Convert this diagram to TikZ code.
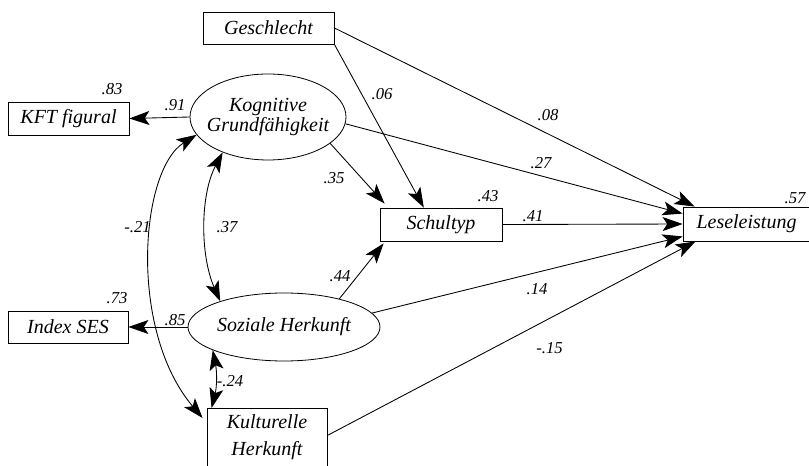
\documentclass[tikz,border=0pt]{standalone}
\usepackage{fontspec}
\setmainfont{Liberation Serif}
\usetikzlibrary{shapes.geometric,arrows.meta,calc}
\begin{document}
\begin{tikzpicture}[x=0.75pt,y=-0.75pt,
  box/.style={draw, line width=0.65pt, inner sep=0pt, font=\fontsize{15}{18}\selectfont\itshape},
  lat/.style={draw, ellipse, line width=0.6pt, inner sep=0pt},
  lattext/.style={align=center, inner sep=0pt, font=\fontsize{15}{14.5}\selectfont\itshape},
  coef/.style={font=\fontsize{12.5}{14}\selectfont\itshape, inner sep=0pt},
  tip/.tip={Stealth[length=15pt,width=10.5pt,inset=3.5pt]},
  arr/.style={line width=0.65pt, -tip},
  darr/.style={line width=0.65pt, tip-tip}
]
\useasboundingbox (0,0) rectangle (809,466);
% nodes
\node[box, minimum width=98.25pt, minimum height=24pt] (gesch) at (268.5,28) {Geschlecht};
\node[box, minimum width=90.75pt, minimum height=24.75pt] (kft) at (68.5,118.5) {KFT figural};
\node[lat, minimum width=117pt, minimum height=64.5pt,
  label={[lattext]center:Kognitive\\Grundfähigkeit}] (kog) at (268,117) {};
\node[box, minimum width=91.5pt, minimum height=24.75pt] (schul) at (441,224.5) {Schultyp};
\node[box, minimum width=95.25pt, minimum height=25.5pt] (lese) at (746.5,224) {Leseleistung};
\node[box, minimum width=90pt, minimum height=24pt] (ses) at (68,327) {Index SES};
\node[lat, minimum width=144pt, minimum height=51pt,
  label={[lattext]center:Soziale Herkunft}] (soz) at (284,327) {};
\node[box, minimum width=90pt, minimum height=48pt, anchor=north,
  label={[lattext, font=\fontsize{15}{20}\selectfont\itshape, yshift=2.25pt]center:Kulturelle\\Herkunft}] (kult) at (267,408) {};
% paths
\draw[arr] (kog.west) -- (kft.east);
\draw[arr] (soz.west) -- (ses.east);
\draw[arr] (gesch.south east) -- ($(schul.north west)!0.36!(schul.north east)$);
\draw[arr] (gesch.east) -- ($(lese.north west)+(12,0)$);
\draw[arr] (kog.-5) -- ($(lese.north west)+(0,7)$);
\draw[arr] (kog.-23) -- ($(schul.north west)+(5,-4)$);
\draw[arr] (schul.east) -- (lese.west);
\draw[arr] (soz.27) -- ($(schul.south west)+(4,2)$);
\draw[arr] (soz.9) -- ($(lese.south west)+(0,-5)$);
\draw[arr] ($(kult.east)+(0,-5)$) -- ($(lese.south west)+(13,0)$);
\draw[darr] (kog.-142) .. controls (200,195) and (200,255) .. (soz.158);
\draw[darr] (kog.-166) .. controls (140,170) and (128,330) .. ($(kult.north west)+(-4,10)$);
\draw[darr] (soz.-162) .. controls (217,372) and (217,386) .. ($(kult.north west)+(5,0)$);
% coefficients
\node[coef] (c83) at (112,89) {.83};
\node[coef] (c91) at (175,105.5) {.91};
\node[coef] (c06) at (382,94) {.06};
\node[coef] (c08) at (548,115) {.08};
\node[coef] (c27) at (541,163) {.27};
\node[coef] (c35) at (334,178) {.35};
\node[coef] (c43) at (488,196) {.43};
\node[coef] (c41) at (533,216) {.41};
\node[coef] (c57) at (795,198) {.57};
\node[coef] (c44) at (340,276) {.44};
\node[coef] (c14) at (537,289) {.14};
\node[coef] (c73) at (117,298) {.73};
\node[coef] (c85) at (175,320) {.85};
\node[coef] (c24) at (230,381) {-.24};
\node[coef] (c21) at (137.5,227) {-.21};
\node[coef] (c37) at (227,227) {.37};
\node[coef] (c15) at (549.5,348) {-.15};
\end{tikzpicture}
\end{document}
